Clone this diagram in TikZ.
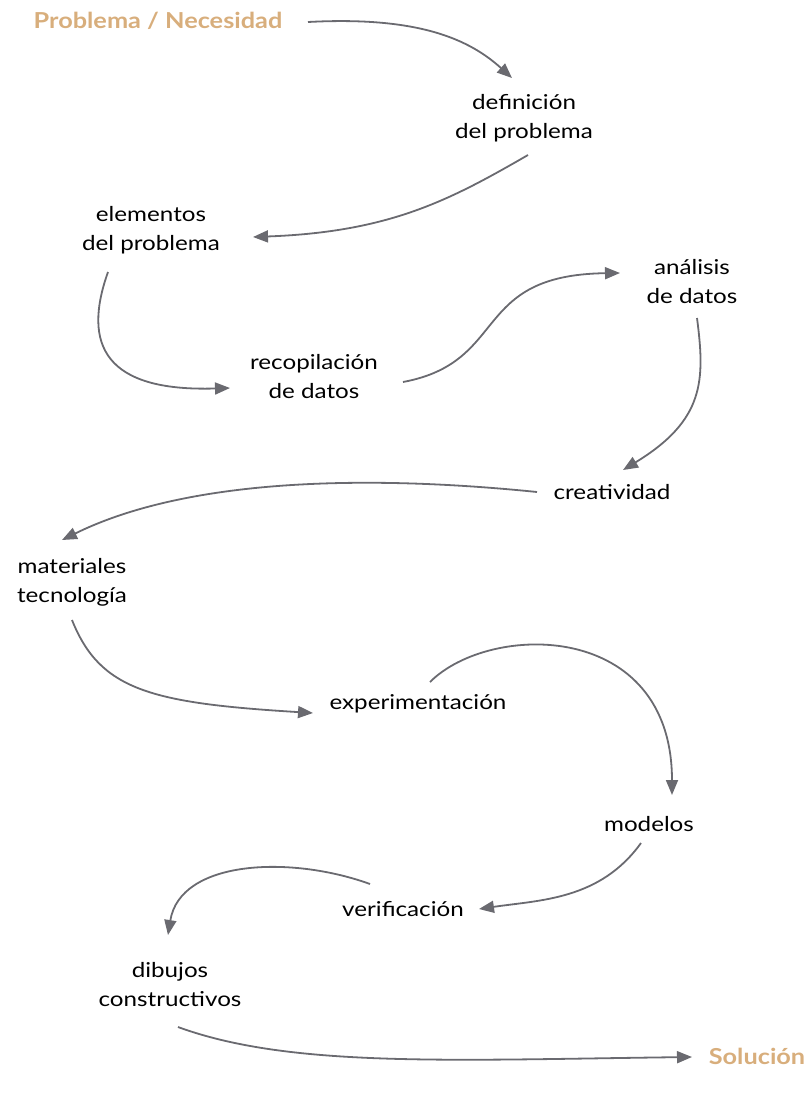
\documentclass[tikz,border=0pt]{standalone}
\usepackage{fontspec}
\setmainfont{Lato}[FakeStretch=1.18]
\newfontfamily\hdfont{Lato}[FakeStretch=1.15]
\usetikzlibrary{arrows.meta}
\definecolor{tan}{HTML}{D8AE7C}
\definecolor{arr}{HTML}{6A6A70}
\begin{document}
\begin{tikzpicture}[x=1pt,y=-1pt,
  lbl/.style={align=center,font=\fontsize{20.5}{29}\selectfont,text=black,inner sep=0pt},
  hd/.style={font=\hdfont\fontsize{22}{26}\bfseries\selectfont,text=tan,inner sep=0pt},
  con/.style={draw=arr,line width=1.8pt,-{Triangle[length=15pt,width=12pt]}}]
\useasboundingbox (0,0) rectangle (807,1095);
\node[hd] (start) at (158,21) {Problema / Necesidad};
\node[lbl] (def) at (524,118) {definición\\del problema};
\node[lbl] (ele) at (151,230) {elementos\\del problema};
\node[lbl] (rec) at (314,377) {recopilación\\de datos};
\node[lbl] (ana) at (692,282) {análisis\\de datos};
\node[lbl] (cre) at (612,492) {creatividad};
\node[lbl] (mat) at (72,582) {materiales\\tecnología};
\node[lbl] (exp) at (418,704) {experimentación};
\node[lbl] (mod) at (649,824) {modelos};
\node[lbl] (ver) at (403,909) {verificación};
\node[lbl] (dib) at (170,985) {dibujos\\constructivos};
\node[hd] (sol) at (757,1056) {Solución};
\coordinate (a1) at (308,22); \coordinate (b1) at (512,78);
\coordinate (a2) at (528,155); \coordinate (b2) at (253,237);
\coordinate (a3) at (108,272); \coordinate (b3) at (230,388);
\coordinate (a4) at (403,382); \coordinate (b4) at (620,273);
\coordinate (a5) at (697,318); \coordinate (b5) at (623,470);
\coordinate (a6) at (537,492); \coordinate (b6) at (62,540);
\coordinate (a7) at (72,620); \coordinate (b7) at (313,713);
\coordinate (a8) at (430,682); \coordinate (b8) at (672,795);
\coordinate (a9) at (641,843); \coordinate (b9) at (479,909);
\coordinate (a10) at (370,884); \coordinate (b10) at (168,935);
\coordinate (a11) at (178,1027); \coordinate (b11) at (692,1057);
\draw[con] (a1) .. controls (420,16) and (470,40) .. (b1);
\draw[con] (a2) .. controls (450,200) and (390,232) .. (b2);
\draw[con] (a3) .. controls (82,345) and (105,392) .. (b3);
\draw[con] (a4) .. controls (510,362) and (470,275) .. (b4);
\draw[con] (a5) .. controls (705,380) and (705,420) .. (b5);
\draw[con] (a6) .. controls (400,478) and (200,472) .. (b6);
\draw[con] (a7) .. controls (100,690) and (150,703) .. (b7);
\draw[con] (a8) .. controls (490,622) and (672,620) .. (b8);
\draw[con] (a9) .. controls (600,900) and (540,900) .. (b9);
\draw[con] (a10) .. controls (290,855) and (180,860) .. (b10);
\draw[con] (a11) .. controls (290,1068) and (450,1060) .. (b11);
\end{tikzpicture}
\end{document}
